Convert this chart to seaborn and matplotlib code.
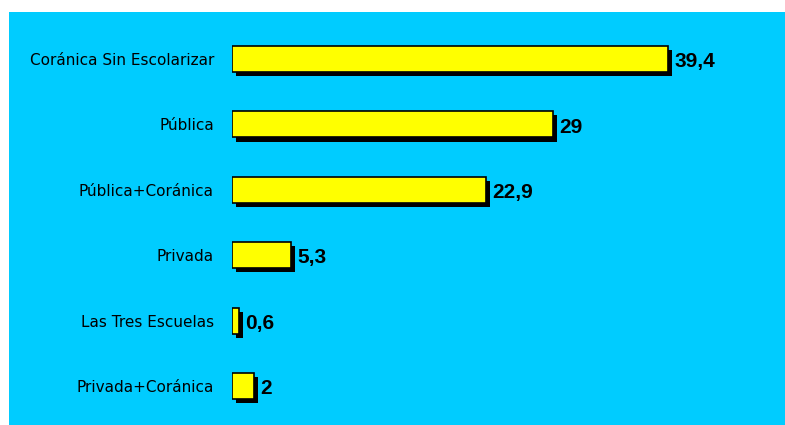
import pandas as pd
import seaborn as sns
import matplotlib.pyplot as plt
import matplotlib.patheffects as pe
from matplotlib.patches import Rectangle

# data
categories = ["Coránica Sin Escolarizar", "Pública", "Pública+Coránica",
              "Privada", "Las Tres Escuelas", "Privada+Coránica"]
values = [39.4, 29, 22.9, 5.3, 0.6, 2]
value_labels = ["39,4", "29", "22,9", "5,3", "0,6", "2"]

df = pd.DataFrame({"categoria": categories, "valor": values})

W, H = 785, 425
fig = plt.figure(figsize=(W / 100, H / 100), dpi=100, facecolor="white")

# cyan panel behind everything
fig.patches.append(Rectangle((9 / W, 0), 1 - 9 / W, 1 - 12 / H,
                             transform=fig.transFigure, facecolor="#00CCFF",
                             edgecolor="none", zorder=-10))

# axes placed so bars start at x=232 px, 11.07 px per unit
ax_left, ax_top, ax_bottom = 232, 26.3, 418.7
xmax = 48
ax = fig.add_axes([ax_left / W, 1 - ax_bottom / H,
                   xmax * 11.07 / W, (ax_bottom - ax_top) / H])
ax.set_facecolor("none")
ax.set_zorder(5)

sns.barplot(data=df, x="valor", y="categoria", orient="h", color="#FFFF00",
            edgecolor="black", linewidth=1.2, width=0.4, saturation=1, ax=ax)

for bar in ax.patches:
    bar.set_path_effects([pe.SimplePatchShadow(offset=(3, -3), shadow_rgbFace="black", alpha=1),
                          pe.Normal()])

for i, (v, lab) in enumerate(zip(values, value_labels)):
    ax.annotate(lab, (v, i), xytext=(4.5, -2), textcoords="offset points",
                ha="left", va="center", fontsize=15, fontweight="bold",
                family="Liberation Sans", color="black")

ax.set_xlim(0, xmax)
ax.set_ylim(5.5, -0.5)
ax.set_xlabel("")
ax.set_ylabel("")
ax.set_xticks([])
ax.tick_params(axis="y", length=0, pad=13, labelsize=11)
for lbl in ax.get_yticklabels():
    lbl.set_family("DejaVu Sans")
for s in ax.spines.values():
    s.set_visible(False)

fig.savefig("out.png", dpi=100, facecolor="white")
